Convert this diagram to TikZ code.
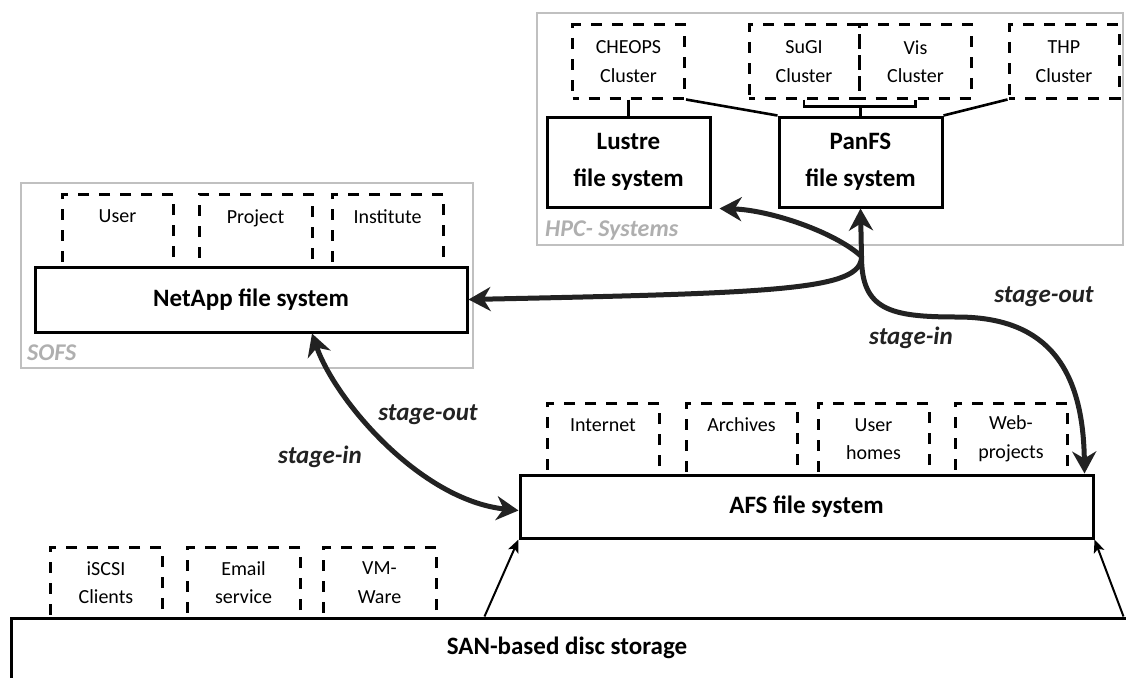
\documentclass[tikz,border=0pt]{standalone}
\usepackage{fontspec}
\setmainfont{Carlito}
\usetikzlibrary{arrows.meta,calc}
\definecolor{boxgray}{RGB}{192,192,192}
\definecolor{labelgray}{RGB}{175,175,175}
\definecolor{arrowc}{RGB}{34,34,34}
\begin{document}
\begin{tikzpicture}[x=1pt,y=-1pt,
  sfont/.style={font=\fontsize{20}{28.5}\selectfont},
  bfont/.style={font=\fontsize{25}{37}\selectfont\bfseries},
  dbox/.style={draw, line width=3pt, dash pattern=on 11pt off 10pt, dash phase=5pt,
    minimum width=112pt, minimum height=72pt, inner sep=0pt, align=center, sfont},
  sbox/.style={draw, line width=3pt, fill=white, inner sep=0pt, align=center, bfont},
  gbox/.style={draw=boxgray, line width=2.5pt, inner sep=0pt},
  glabel/.style={text=labelgray, font=\fontsize{24}{28}\selectfont\bfseries\itshape, inner sep=0pt, anchor=west},
  slabel/.style={text=arrowc, font=\fontsize{25}{30}\selectfont\bfseries\itshape, inner sep=0pt},
  big/.style={draw=arrowc, line width=5pt, >={Stealth[length=22pt,width=24pt,inset=7pt]}},
  thinarr/.style={draw, line width=2pt, ->, >={Stealth[length=13pt,width=11pt,inset=3pt]}},
  conn/.style={draw, line width=2.6pt}
]
\useasboundingbox (0,0) rectangle (1126,677);
\clip (0,0) rectangle (1126,677);

% gray group boxes
\node[gbox, minimum width=586pt, minimum height=232pt] (hpc) at (830,129) {};
\node[gbox, minimum width=452pt, minimum height=185pt] (sofs) at (247,275.5) {};
\node[glabel] (hpclabel) at (545,231) {HPC- Systems};
\node[glabel] (sofslabel) at (27,353) {SOFS};

% HPC clusters
\node[dbox, minimum height=73pt] (cheops) at (628.5,61.5) {CHEOPS\\Cluster};
\node[dbox, minimum height=73pt, minimum width=110pt] (sugi) at (804,61.5) {SuGI\\Cluster};
\node[dbox, minimum height=73pt] (vis) at (915.5,61.5) {Vis\\Cluster};
\node[dbox, minimum height=73pt, minimum width=110pt] (thp) at (1064,61.5) {THP\\Cluster};

% SOFS sub boxes
\node[dbox, minimum height=73pt, minimum width=111pt] (user) at (117.5,230.5) {User\\\mbox{}};
\node[dbox, minimum height=73pt, minimum width=113pt] (project) at (255.5,230.5) {Project\\\mbox{}};
\node[dbox, minimum height=73pt, minimum width=111pt] (institute) at (387.5,230.5) {Institute\\\mbox{}};

% AFS sub boxes
\node[dbox] (internet) at (603,439) {Internet\\\mbox{}};
\node[dbox, minimum width=111pt] (archives) at (741.5,439) {Archives\\\mbox{}};
\node[dbox, minimum width=111pt] (homes) at (873.5,439) {User\\homes};
\node[dbox] (web) at (1011,439) {Web-\\projects};

% SAN sub boxes
\node[dbox, minimum height=71pt] (iscsi) at (106,582.5) {iSCSI\\Clients};
\node[dbox, minimum height=71pt, minimum width=113pt] (email) at (243.5,582.5) {Email\\service};
\node[dbox, minimum height=71pt, minimum width=113pt] (vmware) at (379.5,582.5) {VM-\\Ware};

% solid boxes
\node[sbox, minimum width=163pt, minimum height=90pt] (lustre) at (628.5,162) {Lustre\\file system};
\node[sbox, minimum width=163pt, minimum height=90pt] (panfs) at (860.5,162) {PanFS\\file system};
\node[sbox, minimum width=432pt, minimum height=65pt] (netapp) at (251,299.5) {NetApp file system};
\node[sbox, minimum width=573pt, minimum height=63pt] (afs) at (806.5,506.5) {AFS file system};
\node[sbox, minimum width=1130pt, minimum height=100pt] (san) at (576,668) {};
\node[bfont, inner sep=0pt] (santext) at (567,648) {SAN-based disc storage};

% HPC connectors
\draw[conn] (cheops.south) -- (lustre.north);
\draw[conn] (cheops.south east) -- (panfs.north west);
\draw[conn] (thp.south west) -- (panfs.north east);
\coordinate (br) at ($(panfs.north)+(0,-9)$);
\draw[conn] (sugi.south) |- (br) -| (vis.south);
\draw[conn] (br) -- (panfs.north);

% SAN to AFS
\draw[thinarr] ([xshift=475pt]san.north west) -- (afs.south west);
\draw[thinarr] ([xshift=1114pt]san.north west) -- (afs.south east);

% stage arrows
\coordinate (jn) at ($(panfs.south)+(1,48)$);
\coordinate (lustreend) at ([xshift=8pt]lustre.south east);
\coordinate (webend) at ([xshift=-10pt]afs.north east);
\coordinate (mid) at (957,317);
\draw[big,<->] (panfs.south) -- (jn) .. controls (861.5,310) and (890,317) .. (mid)
   .. controls (1040,317) and (1083,360) .. (webend);
\draw[big,->] (jn) .. controls (861.5,290) and (780,293) .. (netapp.east);
\draw[big,->] (jn) .. controls (835,232) and (770,210) .. (lustreend);
\coordinate (nastart) at ([xshift=61pt]netapp.south);
\coordinate (afsin) at ([yshift=-4pt]afs.west);
\draw[big,<->] (nastart) .. controls (335,400) and (420,500) .. (afsin);

% labels
\node[slabel] (so1) at (1044,297) {stage-out};
\node[slabel] (si1) at (911,338) {stage-in};
\node[slabel] (so2) at (428,415) {stage-out};
\node[slabel] (si2) at (320,457) {stage-in};
\end{tikzpicture}
\end{document}
